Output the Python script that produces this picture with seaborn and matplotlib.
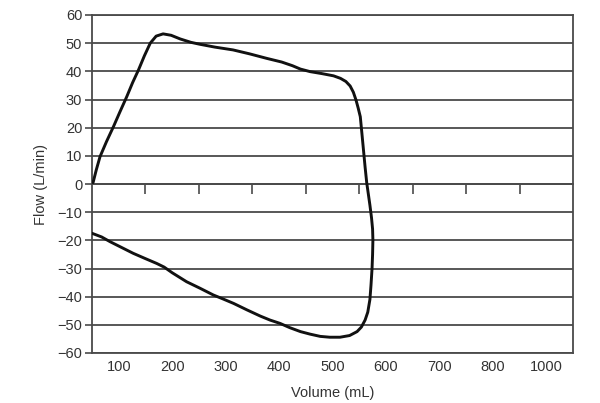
import numpy as np
import pandas as pd
import seaborn as sns
import matplotlib
matplotlib.use("Agg")
import matplotlib.pyplot as plt

# flow-volume loop (volume mL, flow L/min)
volume = [52, 58, 65, 77, 90, 102, 115, 126, 137, 148, 159, 170, 183, 198, 215,
          235, 252, 280, 314, 345, 377, 405, 425, 440, 458, 480, 502, 515, 525,
          533, 539, 544, 548, 552, 555, 558, 561, 564, 567, 570, 573, 575, 575.6,
          575, 574, 572, 570, 566, 561, 554, 546, 532, 514, 495, 477, 458, 440,
          420, 402, 383, 365, 340, 315, 295, 277, 252, 227, 200, 185, 171, 150,
          127, 105, 84, 68, 50]
flow = [0.5, 5, 9.7, 15, 20.3, 25.5, 31, 36, 40.5, 45.5, 50, 52.5, 53.3, 52.8, 51.5,
        50.3, 49.6, 48.6, 47.6, 46.2, 44.6, 43.3, 42, 40.8, 39.9, 39.2, 38.4, 37.5, 36.4,
        34.8, 32.6, 29.8, 27, 23.9, 18, 12, 6, 0.5, -3.5, -7.5, -12, -16, -19.9,
        -25, -30, -36, -41, -45.5, -48.3, -50.8, -52.4, -53.8, -54.4, -54.4, -54.1, -53.3, -52.4,
        -51, -49.5, -48.3, -46.9, -44.7, -42.4, -40.8, -39.4, -37, -34.7, -31.5, -29.5, -28.2, -26.5,
        -24.6, -22.5, -20.5, -18.8, -17.5]

x_ticks = [100, 200, 300, 400, 500, 600, 700, 800, 900]
x_labels = ["100", "200", "300", "400", "500", "600", "700", "800", "1000"]
zero_ticks = [150, 250, 350, 450, 550, 650, 750, 850]
y_ticks = list(range(-60, 61, 10))

df = pd.DataFrame({"Volume": volume, "Flow": flow})

sns.set_style("white")
plt.rcParams["font.family"] = ["Liberation Sans", "DejaVu Sans"]

grid_col = "#4a4a4a"
text_col = "#333333"

fig = plt.figure(figsize=(6, 4.03), dpi=100)
ax = fig.add_axes([92 / 600, 1 - 353 / 403, (573 - 92) / 600, (353 - 15) / 403])

for y in y_ticks:
    ax.axhline(y, color=grid_col, lw=1.3, zorder=1)

sns.lineplot(data=df, x="Volume", y="Flow", sort=False, estimator=None,
             color="#111111", lw=2.1, ax=ax, zorder=3)

ax.set_xlim(50, 950)
ax.set_ylim(-60, 60)

# x axis line sits on flow = 0 with small downward ticks
ax.spines["bottom"].set_position(("data", 0))
ax.set_xticks(zero_ticks)
ax.set_xticklabels([])
ax.tick_params(axis="x", direction="out", length=7, width=1.2, color=grid_col,
               bottom=True)

for s in ["left", "right", "top", "bottom"]:
    ax.spines[s].set_color(grid_col)
    ax.spines[s].set_linewidth(1.3)
    ax.spines[s].set_visible(True)

ax.set_yticks(y_ticks)
ax.set_yticklabels([str(v).replace("-", "\u2212") for v in y_ticks])
ax.tick_params(axis="y", direction="out", length=5, width=1.2, color=grid_col,
               labelsize=10.5, labelcolor=text_col, pad=2, left=True)

sec = ax.secondary_xaxis(0)
sec.set_xticks(x_ticks)
sec.set_xticklabels(x_labels)
sec.tick_params(length=0, labelsize=10.5, labelcolor=text_col, pad=5)
sec.spines["bottom"].set_color(grid_col)
sec.spines["bottom"].set_linewidth(1.3)
sec.set_xlabel("Volume (mL)", fontsize=10.5, color=text_col, labelpad=9)

ax.set_xlabel("")
ax.set_ylabel("Flow (L/min)", fontsize=10.5, color=text_col, labelpad=7)

fig.savefig("out.png", dpi=100)
